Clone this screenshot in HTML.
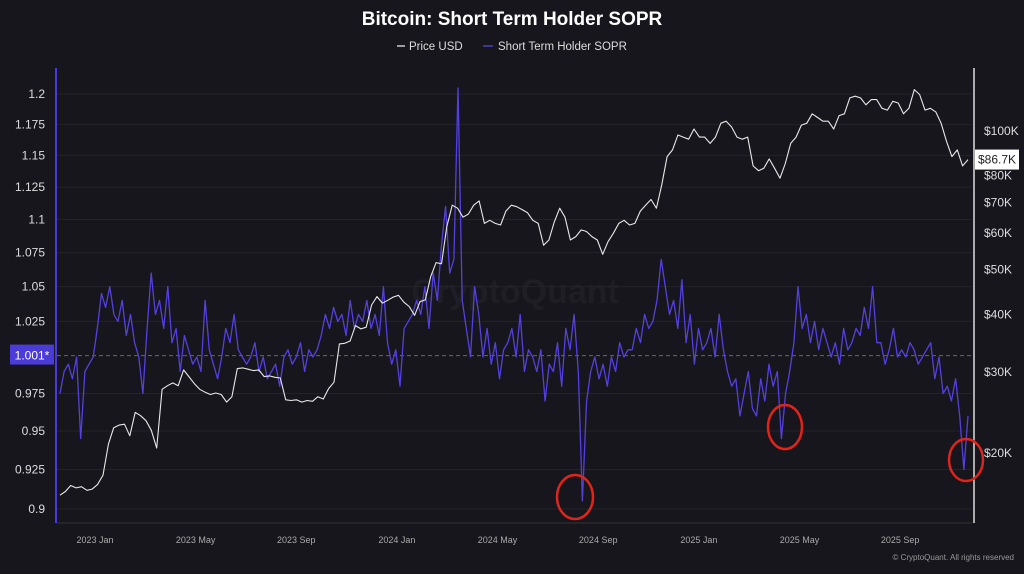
<!DOCTYPE html>
<html><head><meta charset="utf-8"><style>
html,body{margin:0;padding:0;background:#17161c;}
body{width:1024px;height:569px;overflow:hidden;font-family:"Liberation Sans",sans-serif;}
</style></head><body>
<svg id="chart" width="1024" height="569" xmlns="http://www.w3.org/2000/svg">
<rect width="1024" height="569" fill="#17161c"/>
<text x="512" y="25" text-anchor="middle" fill="#fff" font-size="19" font-weight="bold">Bitcoin: Short Term Holder SOPR</text>
<g>
<line x1="397" y1="46" x2="405" y2="46" stroke="#ccc" stroke-width="1.5"/>
<text x="409" y="50" fill="#ddd" font-size="11.5">Price USD</text>
<line x1="483" y1="46" x2="493" y2="46" stroke="#4a3bd6" stroke-width="1.5"/>
<text x="498" y="50" fill="#ddd" font-size="11.5">Short Term Holder SOPR</text>
</g>
<text x="515" y="303" text-anchor="middle" fill="#ffffff" fill-opacity="0.035" font-size="34" font-weight="bold">CryptoQuant</text>
<g id="grid"></g><g id="axes"></g><g id="series"></g><g id="over"></g>
<text x="1014" y="560" text-anchor="end" fill="#999" font-size="8">© CryptoQuant. All rights reserved</text>
</svg>
<script>
const ns="http://www.w3.org/2000/svg";
const leftTicks=[1.2,1.175,1.15,1.125,1.1,1.075,1.05,1.025,0.975,0.95,0.925,0.9];
const rightTicks=[100000,80000,70000,60000,50000,40000,30000,20000];
const rightLabels=["$100K","$80K","$70K","$60K","$50K","$40K","$30K","$20K"];
const xLabels=["2023 Jan","2023 May","2023 Sep","2024 Jan","2024 May","2024 Sep","2025 Jan","2025 May","2025 Sep"];
const xLabelMonths=[0,4,8,12,16,20,24,28,32];
const price=[16.2,16.5,17.0,16.8,16.9,16.6,16.7,17.1,17.9,20.9,22.7,23.0,23.1,21.8,24.5,24.1,23.5,22.4,20.5,27.5,28.0,28.4,28.0,30.3,29.3,28.3,27.5,27.1,26.8,27.0,26.8,25.8,26.5,30.5,30.6,30.4,30.2,30.3,29.3,29.4,29.2,29.1,26.1,26.0,26.1,25.8,26.0,25.9,26.5,26.2,27.6,28.5,34.5,34.6,35.0,37.8,37.2,37.5,41.9,43.7,42.3,42.9,43.6,44.0,42.5,41.6,39.8,42.6,43.0,48.3,51.8,51.5,62.0,69.0,68.0,65.0,66.0,69.0,70.5,63.0,64.0,63.0,62.5,67.0,69.0,68.5,67.5,66.5,64.0,63.0,56.5,58.0,63.5,68.0,65.0,58.0,59.0,61.0,60.5,59.0,58.0,54.0,57.5,60.0,63.0,64.0,62.5,63.0,67.0,69.0,71.0,68.0,76.5,88.0,91.0,98.0,97.0,96.0,101.0,97.0,97.0,94.0,97.0,104.0,105.0,102.0,97.0,96.0,97.0,84.0,82.0,83.0,87.0,83.0,79.0,85.0,94.0,97.0,103.0,104.0,109.0,107.0,105.0,105.0,101.0,108.0,109.0,118.0,119.0,118.0,114.0,117.0,117.0,112.0,111.0,116.0,115.0,109.0,112.0,123.0,120.0,111.0,112.0,110.0,104.0,95.0,88.0,91.0,84.0,86.7];
const sopr=[0.975,0.99,0.995,0.985,1.0,0.945,0.99,0.995,
1.0,1.02,1.045,1.035,1.05,1.03, 1.025,1.04,1.015,1.03,1.01,1.0, 0.975,1.02,1.06,1.03,1.04,1.02, 1.05,1.01,1.02,0.99,1.015,1.005,
0.995,1.0,0.99,1.04,1.005,0.995, 0.985,1.0,1.02,1.01,1.03,1.005, 1.0,0.995,1.0,1.01,0.99,1.0, 0.985,0.99,0.995,0.98,1.0,1.005,
0.995,1.0,1.01,0.99,1.005,1.0, 1.005,1.015,1.03,1.02,1.035,1.025, 1.03,1.015,1.04,1.02,1.03,1.025, 1.04,1.02,1.03,1.015,1.05,1.01,
0.995,1.005,0.98,1.02,1.025,1.03, 1.04,1.03,1.05,1.02,1.06,1.04,1.08,1.11,1.06, 1.07,1.205,1.04,1.02,1.0,1.05,1.03, 1.0,1.02,0.995,1.01,0.985,1.005,
1.01,1.02,1.0,1.03,0.99,1.005, 1.0,0.99,1.005,0.97,0.995,0.99, 1.01,0.98,1.02,1.005,1.03,0.99, 0.905,0.97,0.99,1.0,0.985,0.995,
0.98,1.0,0.99,1.01,1.0,1.005, 1.005,1.02,1.01,1.03,1.02,1.025, 1.04,1.07,1.05,1.03,1.04,1.02, 1.055,1.01,1.03,0.995,1.02,1.005,
1.01,1.02,1.0,1.03,1.005,0.99, 0.98,0.985,0.96,0.975,0.99,0.965, 0.96,0.985,0.97,0.995,0.98,0.99, 0.945,0.975,0.99,1.01,1.05,1.02,
1.03,1.01,1.025,1.005,1.02,1.01, 1.0,1.01,0.995,1.02,1.005,1.01, 1.02,1.015,1.035,1.02,1.05,1.01, 1.01,0.995,1.005,1.02,1.0,1.005,
1.0,1.01,1.005,0.995,1.0,1.005, 1.01,0.985,1.0,0.975, 0.98,0.97,0.985,0.96, 0.925,0.96];

const X0=60,X1=968;
const xMonth=m=>95+m*25.16;
const yL=v=>509-(Math.log10(v)-Math.log10(0.9))/(Math.log10(1.2)-Math.log10(0.9))*415;
const yR=p=>131+(5-Math.log10(p))*460.7;
const xi=(i,n)=>X0+(X1-X0)*i/(n-1);
function mk(tag,attrs,parent){const e=document.createElementNS(ns,tag);for(const k in attrs)e.setAttribute(k,attrs[k]);document.getElementById(parent).appendChild(e);return e;}

leftTicks.forEach(v=>{
  const g=mk('line',{x1:57,x2:972,y1:yL(v),y2:yL(v),stroke:'#24232a','stroke-width':1},'grid');
  
  
  const t=mk('text',{x:45,y:yL(v)+4,'text-anchor':'end',fill:'#ddd','font-size':12},'axes');
  t.textContent=String(v);
  
  
});
rightTicks.forEach((p,i)=>{
  const t=mk('text',{x:984,y:yR(p)+4,fill:'#ddd','font-size':12},'axes');
  t.textContent=rightLabels[i];
  
  
});
xLabels.forEach((l,i)=>{
  const t=mk('text',{x:xMonth(xLabelMonths[i]),y:543,'text-anchor':'middle',fill:'#aaa','font-size':9},'axes');
  t.textContent=l;
  
  
});
let a=mk('line',{x1:56,x2:56,y1:68,y2:523,stroke:'#4a3bd6','stroke-width':2},'axes');


a=mk('line',{x1:974,x2:974,y1:68,y2:523,stroke:'#ddd','stroke-width':1.5},'axes');


a=mk('line',{x1:57,x2:972,y1:523,y2:523,stroke:'#333','stroke-width':1},'axes');


a=mk('line',{x1:57,x2:972,y1:yL(1.001),y2:yL(1.001),stroke:'#666','stroke-width':1,'stroke-dasharray':'4,3'},'grid');



let d=sopr.map((v,i)=>(i?'L':'M')+xi(i,sopr.length).toFixed(1)+','+yL(v).toFixed(1)).join('');
let s=mk('path',{d:d,fill:'none',stroke:'#5440e0','stroke-width':1.3,'stroke-linejoin':'round'},'series');


d=price.map((v,i)=>(i?'L':'M')+xi(i,price.length).toFixed(1)+','+yR(v*1000).toFixed(1)).join('');
s=mk('path',{d:d,fill:'none',stroke:'#e8e8e8','stroke-width':1.1,'stroke-linejoin':'round'},'series');



let r=mk('rect',{x:10,y:yL(1.001)-11,width:44,height:20,fill:'#4b3bd8'},'over');


let t=mk('text',{x:32,y:yL(1.001)+4,'text-anchor':'middle',fill:'#fff','font-size':12},'over');
t.textContent='1.001*';


const last=price[price.length-1]*1000;
r=mk('rect',{x:975,y:yR(last)-10,width:44,height:20,fill:'#fff'},'over');


t=mk('text',{x:997,y:yR(last)+4,'text-anchor':'middle',fill:'#222','font-size':12},'over');
t.textContent='$86.7K';


[[575,497,18,22],[785,427,17,22],[966,460,17,21]].forEach(c=>{
  const e=mk('ellipse',{cx:c[0],cy:c[1],rx:c[2],ry:c[3],fill:'none',stroke:'#e0241b','stroke-width':2.5},'over');
  
  
});
</script>
</body></html>
